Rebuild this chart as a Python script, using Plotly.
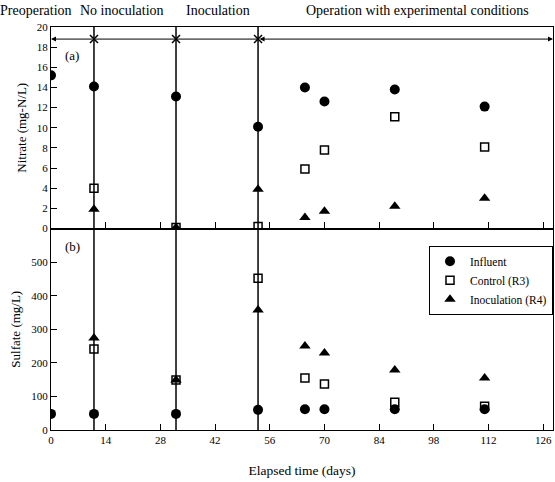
import plotly.graph_objects as go
from plotly.subplots import make_subplots

# ---- data ----
days = [0, 11, 32, 53, 65, 70, 88, 111]
nitrate_influent = [15.2, 14.1, 13.1, 10.1, 14.0, 12.6, 13.8, 12.1]
nitrate_days_ctrl = [11, 32, 53, 65, 70, 88, 111]
nitrate_control = [4.0, 0.1, 0.2, 5.9, 7.8, 11.1, 8.1]
nitrate_inoc = [1.9, 0.1, 3.9, 1.1, 1.7, 2.2, 3.0]

sulfate_influent = [48, 48, 48, 60, 62, 62, 62, 62]
sulfate_control = [241, 149, 452, 155, 137, 83, 71]
sulfate_inoc = [274, 149, 357, 250, 229, 179, 155]

phase_boundaries = [11, 32, 53]
phase_labels = ["Preoperation", "No inoculation", "Inoculation",
                "Operation with experimental conditions"]
phase_label_x = [-0.03, 0.141, 0.333, 0.731]

x_ticks = [0, 14, 28, 42, 56, 70, 84, 98, 112, 126]
nitrate_ticks = [0, 2, 4, 6, 8, 10, 12, 14, 16, 18, 20]
sulfate_ticks = [0, 100, 200, 300, 400, 500]

FONT = "Liberation Serif"

fig = make_subplots(rows=2, cols=1, shared_xaxes=True, vertical_spacing=0)

circ = dict(symbol="circle", size=10, color="black")
sq = dict(symbol="square-open", size=8, color="black", line=dict(width=1.5))
tri = dict(symbol="triangle-up", size=10, color="black")

fig.add_trace(go.Scatter(x=days, y=nitrate_influent, mode="markers", marker=circ,
                         name="Influent", showlegend=True), row=1, col=1)
fig.add_trace(go.Scatter(x=nitrate_days_ctrl, y=nitrate_control, mode="markers", marker=sq,
                         name="Control (R3)", showlegend=True), row=1, col=1)
fig.add_trace(go.Scatter(x=nitrate_days_ctrl, y=nitrate_inoc, mode="markers", marker=tri,
                         name="Inoculation (R4)", showlegend=True), row=1, col=1)

fig.add_trace(go.Scatter(x=days, y=sulfate_influent, mode="markers", marker=circ,
                         showlegend=False), row=2, col=1)
fig.add_trace(go.Scatter(x=nitrate_days_ctrl, y=sulfate_control, mode="markers", marker=sq,
                         showlegend=False), row=2, col=1)
fig.add_trace(go.Scatter(x=nitrate_days_ctrl, y=sulfate_inoc, mode="markers", marker=tri,
                         showlegend=False), row=2, col=1)

# phase arrow row
arrow_y = 18.8
fig.add_trace(go.Scatter(x=phase_boundaries, y=[arrow_y] * len(phase_boundaries),
                         mode="markers+lines", line=dict(color="black", width=1),
                         marker=dict(symbol="x-thin", size=8, color="black",
                                     line=dict(width=1.5, color="black")),
                         showlegend=False), row=1, col=1)

# vertical phase lines
for b in phase_boundaries:
    fig.add_shape(type="line", xref="x", yref="paper", x0=b, x1=b, y0=0, y1=1,
                  line=dict(color="black", width=1.5))

fig.add_annotation(x=0, y=arrow_y, ax=phase_boundaries[0], ay=arrow_y,
                   xref="x", yref="y", axref="x", ayref="y", text="",
                   showarrow=True, arrowhead=2, arrowsize=1, arrowwidth=1, arrowcolor="black")
fig.add_annotation(x=128.5, y=arrow_y, ax=phase_boundaries[-1], ay=arrow_y,
                   xref="x", yref="y", axref="x", ayref="y", text="",
                   showarrow=True, arrowhead=2, startarrowhead=2, arrowside="end+start",
                   arrowsize=1, arrowwidth=1, arrowcolor="black")

for lab, px in zip(phase_labels, phase_label_x):
    fig.add_annotation(x=px, y=1, xref="paper", yref="paper", text=lab, showarrow=False,
                       yshift=17, xanchor="center", yanchor="middle",
                       font=dict(family=FONT, size=14, color="black"))

fig.add_annotation(x=5.5, y=17.2, xref="x", yref="y", text="(a)", showarrow=False,
                   font=dict(family=FONT, size=13, color="black"))
fig.add_annotation(x=5.5, y=546, xref="x2", yref="y2", text="(b)", showarrow=False,
                   font=dict(family=FONT, size=13, color="black"))

axis_common = dict(showline=True, linecolor="black", linewidth=1.2, mirror=True,
                   ticks="inside", ticklen=6, tickcolor="black", tickwidth=1.2,
                   showgrid=False, zeroline=False,
                   tickfont=dict(family=FONT, size=11, color="black"))

fig.update_xaxes(range=[0, 128.5], tickvals=x_ticks, **axis_common)
fig.update_xaxes(showticklabels=False, row=1, col=1)
fig.update_xaxes(title=dict(text="Elapsed time (days)", font=dict(family=FONT, size=13.5, color="black"),
                            standoff=20), row=2, col=1)
fig.update_yaxes(range=[0, 20], tickvals=nitrate_ticks, row=1, col=1,
                 title=dict(text="Nitrate (mg-N/L)", font=dict(family=FONT, size=13, color="black"),
                            standoff=7), **axis_common)
fig.update_yaxes(range=[0, 600], tickvals=sulfate_ticks, row=2, col=1,
                 title=dict(text="Sulfate (mg/L)", font=dict(family=FONT, size=13, color="black"),
                            standoff=7), **axis_common)

fig.update_layout(
    width=555, height=482,
    margin=dict(l=51, r=2, t=27, b=52),
    plot_bgcolor="white", paper_bgcolor="white",
    font=dict(family=FONT, color="black"),
    legend=dict(x=1, xanchor="right", y=0.457, yanchor="top",
                bordercolor="black", borderwidth=1, bgcolor="white",
                font=dict(family=FONT, size=11.5, color="black"),
                itemwidth=30, tracegroupgap=0),
)

# remove the page's default body margin so the figure sits at the window's corner
fig.write_html("out.html",
               config={"displayModeBar": False},
               post_script="document.body.style.margin='0';document.body.style.overflow='hidden';")
